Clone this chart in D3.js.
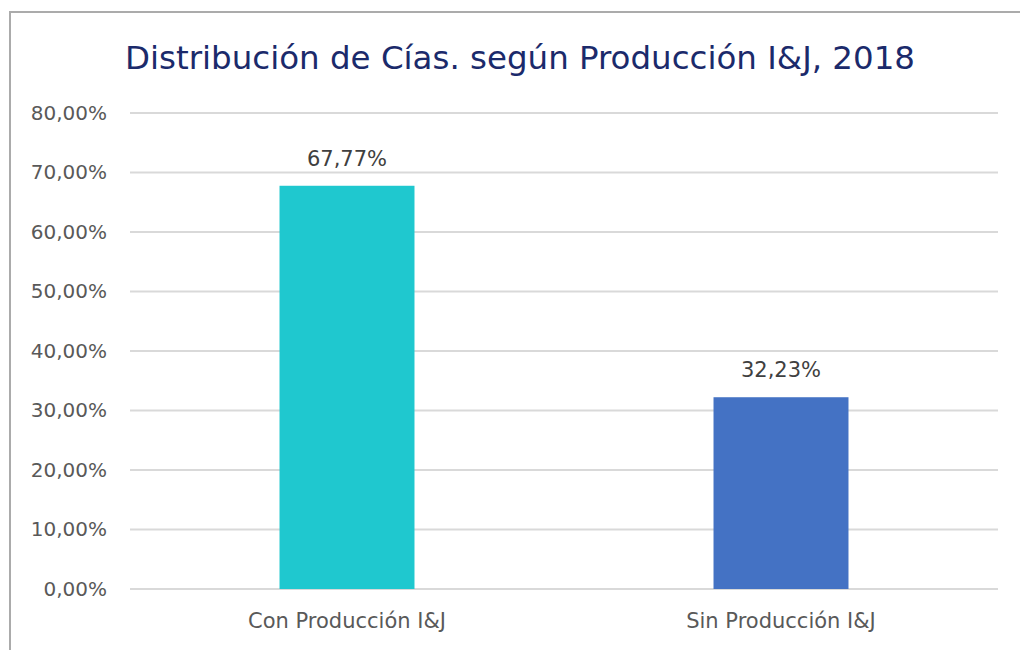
<!DOCTYPE html>
<html>
<head>
<meta charset="utf-8">
<script src="https://d3js.org/d3.v7.min.js"></script>
<style>
  body { margin: 0; background: #fff; }
  text { font-family: "DejaVu Sans", sans-serif; }
</style>
</head>
<body>
<script>
var categories = ["Con Producción I&J", "Sin Producción I&J"];
var values = [67.77, 32.23];
var colors = ["#1FC8CF", "#4472C4"];
var yTicks = [0, 10, 20, 30, 40, 50, 60, 70, 80];
var title = "Distribución de Cías. según Producción I&J, 2018";

var W = 1020, H = 650;
var margin = {top: 113, right: 22, bottom: 61, left: 130};
var width = W - margin.left - margin.right,
    height = H - margin.top - margin.bottom;

var fmt = function(v) { return v.toFixed(2).replace(".", ",") + "%"; };

var svg = d3.select("body").append("svg")
    .attr("width", W)
    .attr("height", H);

// frame of the chart area
svg.append("rect")
    .attr("x", 10).attr("y", 12)
    .attr("width", W + 20).attr("height", H + 20)
    .attr("fill", "none")
    .attr("stroke", "#ababab")
    .attr("stroke-width", 2);

svg.append("text")
    .attr("x", 520).attr("y", 69)
    .attr("text-anchor", "middle")
    .attr("fill", "#1B2A6B")
    .style("font-family", "'DejaVu Sans Condensed', 'Liberation Sans Narrow', sans-serif")
    .style("font-size", "32px")
    .attr("textLength", 790)
    .attr("lengthAdjust", "spacingAndGlyphs")
    .text(title);

var g = svg.append("g")
    .attr("transform", "translate(" + margin.left + "," + margin.top + ")");

var x = d3.scaleBand().domain(categories).range([0, width]);
var y = d3.scaleLinear().domain([0, 80]).range([height, 0]);

// gridlines
g.selectAll(".grid")
    .data(yTicks)
  .enter().append("line")
    .attr("x1", 0).attr("x2", width)
    .attr("y1", function(d) { return y(d); })
    .attr("y2", function(d) { return y(d); })
    .attr("stroke", "#d9d9d9")
    .attr("stroke-width", 2);

var yAxis = g.append("g")
    .call(d3.axisLeft(y).tickValues(yTicks).tickSize(0).tickPadding(23)
      .tickFormat(fmt));
yAxis.select(".domain").remove();
yAxis.selectAll("text")
    .attr("fill", "#595959")
    .style("font-size", "20px")
    .style("font-family", "'DejaVu Sans', sans-serif");

var barW = x.bandwidth() * 0.311;

g.selectAll(".bar")
    .data(values)
  .enter().append("rect")
    .attr("x", function(d, i) { return x(categories[i]) + x.bandwidth() / 2 - barW / 2; })
    .attr("y", function(d) { return y(d); })
    .attr("width", barW)
    .attr("height", function(d) { return height - y(d); })
    .attr("fill", function(d, i) { return colors[i]; });

g.selectAll(".lbl")
    .data(values)
  .enter().append("text")
    .attr("x", function(d, i) { return x(categories[i]) + x.bandwidth() / 2; })
    .attr("y", function(d) { return y(d) - 20; })
    .attr("text-anchor", "middle")
    .attr("fill", "#404040")
    .style("font-size", "21px")
    .text(fmt);

var xAxis = g.append("g")
    .attr("transform", "translate(0," + height + ")")
    .call(d3.axisBottom(x).tickSize(0).tickPadding(24));
xAxis.select(".domain").remove();
xAxis.selectAll("text")
    .attr("fill", "#595959")
    .style("font-size", "21px")
    .style("font-family", "'DejaVu Sans', sans-serif");
</script>
</body>
</html>
